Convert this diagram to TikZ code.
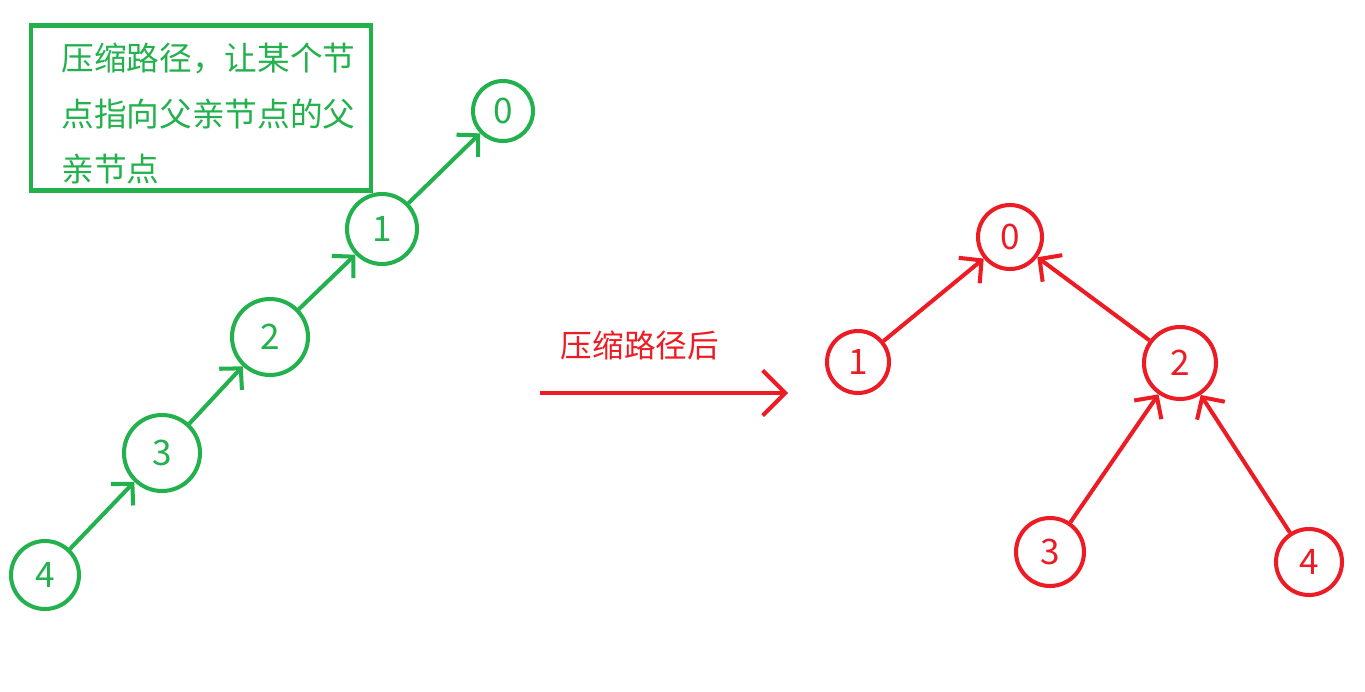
\documentclass[tikz,border=0pt]{standalone}
\usepackage{fontspec}
\usepackage{tikz}
\usetikzlibrary{arrows.meta, positioning}
\newfontfamily\cjk{Noto Sans CJK SC}
\definecolor{PaintGreen}{RGB}{34,177,76}
\definecolor{PaintRed}{RGB}{237,28,36}
\newcommand{\noteindent}{\hspace*{0.32cm}}
\tikzset{
  gnode/.style={
    circle, inner sep=0pt,
    draw=PaintGreen, line width=2.3pt,
    font=\cjk\fontsize{20}{24}\selectfont, text=PaintGreen
  },
  rnode/.style={
    circle, inner sep=0pt,
    draw=PaintRed, line width=2.3pt,
    font=\cjk\fontsize{20}{24}\selectfont, text=PaintRed
  },
  notebox/.style={
    rectangle, draw=PaintGreen, line width=2.3pt,
    text width=6.22cm, inner xsep=0.29cm, minimum height=3.3cm,
    align=left, font=\cjk\fontsize{18.6}{31.8}\selectfont, text=PaintGreen
  },
  garr/.style={-{Straight Barb[length=0.3cm, width=0.62cm]}, draw=PaintGreen, line width=2.3pt},
  rarr/.style={-{Straight Barb[length=0.32cm, width=0.66cm]}, draw=PaintRed, line width=2.3pt},
  lbl/.style={font=\cjk\fontsize{18}{22}\selectfont, text=PaintRed}
}

\begin{document}
\begin{tikzpicture}
  \useasboundingbox (0,0) rectangle (27.3,-13.82);

  % Before: a chain
  \node[notebox] (note) at (4.02,-2.16)
    {\rule{0pt}{22pt}\noteindent 压缩路径，让某个节\\\noteindent 点指向父亲节点的父\\\noteindent 亲节点};
  \node[gnode, minimum size=1.2cm]  (g0) at (10.06,-2.22) {0};
  \node[gnode, minimum size=1.4cm]  (g1) at (7.64,-4.58)  {1};
  \node[gnode, minimum size=1.52cm] (g2) at (5.40,-6.74)  {2};
  \node[gnode, minimum size=1.52cm] (g3) at (3.24,-9.06)  {3};
  \node[gnode, minimum size=1.36cm] (g4) at (0.90,-11.50) {4};

  % Step arrow
  \node[lbl] (step) at (12.8,-6.9) {压缩路径后};
  \coordinate (stepL) at (10.80,-7.86);
  \coordinate (stepR) at (15.76,-7.86);

  % After: flat tree
  \node[rnode, minimum size=1.28cm] (r0) at (20.20,-4.74) {0};
  \node[rnode, minimum size=1.24cm] (r1) at (17.16,-7.24) {1};
  \node[rnode, minimum size=1.44cm] (r2) at (23.60,-7.26) {2};
  \node[rnode, minimum size=1.36cm] (r3) at (21.00,-11.04) {3};
  \node[rnode, minimum size=1.32cm] (r4) at (26.18,-11.24) {4};

  % Arrows
  \draw[garr] (g4) -- (g3);
  \draw[garr] (g3) -- (g2);
  \draw[garr] (g2) -- (g1);
  \draw[garr] (g1) -- (g0);
  \draw[rarr, -{Straight Barb[length=0.45cm, width=0.9cm]}] (stepL) -- (stepR);
  \draw[rarr] (r1) -- (r0);
  \draw[rarr] (r2) -- (r0);
  \draw[rarr] (r3) -- (r2);
  \draw[rarr] (r4) -- (r2);
\end{tikzpicture}
\end{document}
